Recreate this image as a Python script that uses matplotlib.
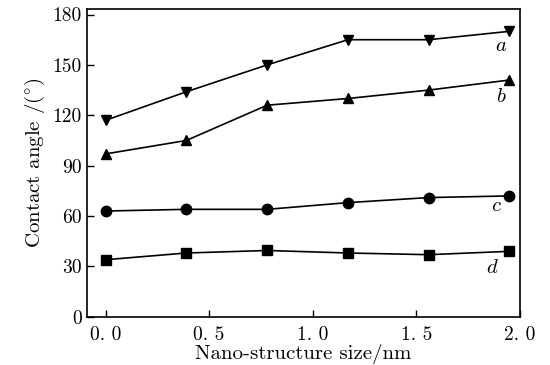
import numpy as np
import matplotlib
matplotlib.use('Agg')
import matplotlib.pyplot as plt

plt.rcParams['font.family'] = ['cmr10', 'DejaVu Serif']
plt.rcParams['mathtext.fontset'] = 'cm'
plt.rcParams['axes.unicode_minus'] = False

# datos
size_nm = [0.0, 0.39, 0.78, 1.17, 1.56, 1.95]
angle_a = [117, 134, 150, 165, 165, 170]
angle_b = [97, 105, 126, 130, 135, 141]
angle_c = [63, 64, 64, 68, 71, 72]
angle_d = [34, 38, 39.5, 38, 37, 39]

x_ticks = [0.0, 0.5, 1.0, 1.5, 2.0]
x_tick_labels = ['0. 0', '0. 5', '1. 0', '1. 5', '2. 0']
y_ticks = [0, 30, 60, 90, 120, 150, 180]

fig = plt.figure(figsize=(5.5, 3.65), dpi=100)
ax = fig.add_axes([0.158, 0.132, 0.787, 0.842])

series = [(angle_a, 'v', 'a'), (angle_b, '^', 'b'),
          (angle_c, 'o', 'c'), (angle_d, 's', 'd')]
for vals, mk, name in series:
    ax.plot(size_nm, vals, color='black', lw=1.2, marker=mk, ms=7.5)

# etiquetas de las curvas
ax.text(1.91, 161, '$a$', fontsize=15, ha='center', va='center')
ax.text(1.91, 131, '$b$', fontsize=15, ha='center', va='center')
ax.text(1.89, 66, '$c$', fontsize=15, ha='center', va='center')
ax.text(1.87, 29, '$d$', fontsize=15, ha='center', va='center')

ax.set_xlim(-0.09, 1.99)
ax.set_ylim(0, 183)
ax.set_xticks(x_ticks)
ax.set_xticklabels(x_tick_labels)
ax.set_yticks(y_ticks)
ax.tick_params(direction='in', length=5, width=1, labelsize=14)
ax.tick_params(axis='x', pad=7)
for s in ax.spines.values():
    s.set_linewidth(1.2)

ax.set_xlabel('Nano-structure size/nm', fontsize=15, labelpad=0)
ax.set_ylabel('Contact angle /($^{\\circ}$)', fontsize=15, labelpad=4)

fig.savefig('out.png', dpi=100)
